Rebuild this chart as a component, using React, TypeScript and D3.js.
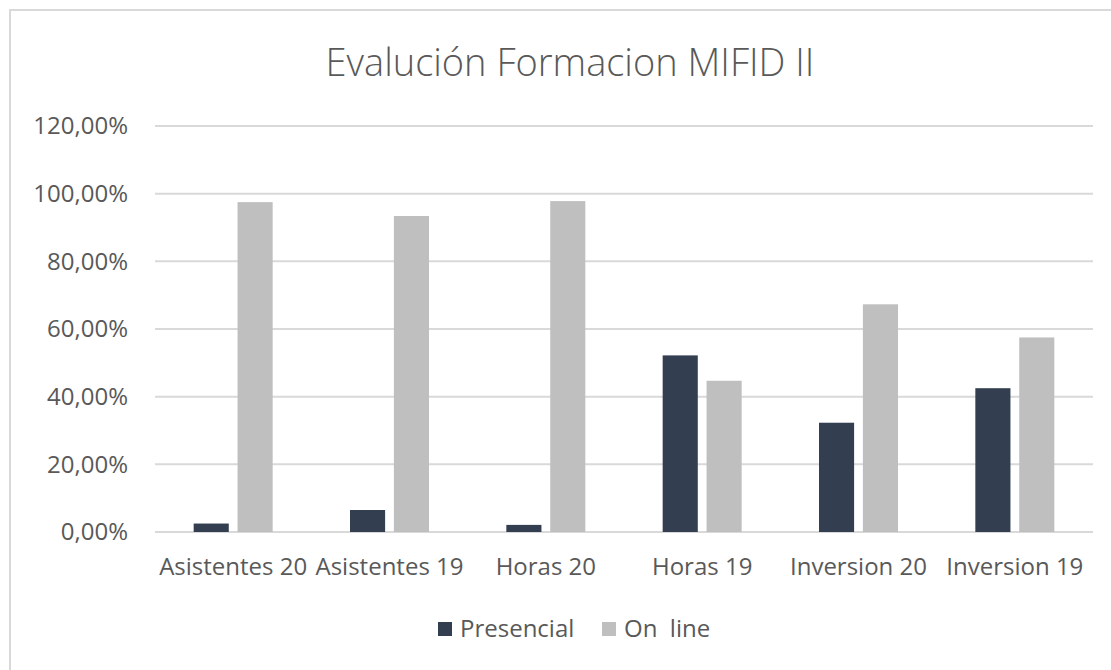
import React, { useEffect, useRef } from "react";
import * as d3 from "d3";

const categories = [
  "Asistentes 20",
  "Asistentes 19",
  "Horas 20",
  "Horas 19",
  "Inversion 20",
  "Inversion 19",
];
const presencial = [0.025, 0.065, 0.021, 0.522, 0.323, 0.425];
const online = [0.975, 0.934, 0.978, 0.447, 0.673, 0.575];
const seriesNames = ["Presencial", "On  line"];
const seriesColors = ["#333f50", "#bfbfbf"];
const yTicks = [0, 0.2, 0.4, 0.6, 0.8, 1.0, 1.2];

export default function App() {
  const ref = useRef<SVGSVGElement | null>(null);

  useEffect(() => {
    const width = 1111;
    const height = 670;
    const margin = { top: 126, left: 155, bottom: 138, right: 18 };

    const svg = d3.select(ref.current);
    svg.selectAll("*").remove();

    const font = "'Open Sans', sans-serif";
    const textColor = "#595959";

    svg
      .append("rect")
      .attr("x", 10)
      .attr("y", 10)
      .attr("width", 1130)
      .attr("height", 700)
      .attr("fill", "#fff")
      .attr("stroke", "#d9d9d9")
      .attr("stroke-width", 2);

    const locale = d3.formatLocale({
      decimal: ",",
      thousands: ".",
      grouping: [3],
      currency: ["", "€"],
    });
    const fmt = locale.format(".2%");

    const x = d3
      .scaleBand()
      .domain(categories)
      .range([margin.left, width - margin.right])
      .padding(0);

    const x1 = d3
      .scaleBand()
      .domain(seriesNames)
      .range([-39.5, 39.5])
      .paddingInner(0.2);

    const y = d3
      .scaleLinear()
      .domain([0, 1.2])
      .range([height - margin.bottom, margin.top]);

    // gridlines
    svg
      .append("g")
      .selectAll("line")
      .data(yTicks)
      .enter()
      .append("line")
      .attr("x1", margin.left)
      .attr("x2", width - margin.right)
      .attr("y1", (d) => y(d))
      .attr("y2", (d) => y(d))
      .attr("stroke", "#d9d9d9")
      .attr("stroke-width", 2);

    // y labels
    svg
      .append("g")
      .selectAll("text")
      .data(yTicks)
      .enter()
      .append("text")
      .attr("x", 128)
      .attr("y", (d) => y(d))
      .attr("dy", "0.35em")
      .attr("text-anchor", "end")
      .attr("font-family", font)
      .attr("font-size", 24)
      .attr("fill", textColor)
      .text((d) => fmt(d));

    const data = categories.map((c, i) => ({
      cat: c,
      values: [presencial[i], online[i]],
    }));

    const groups = svg
      .append("g")
      .selectAll("g")
      .data(data)
      .enter()
      .append("g")
      .attr(
        "transform",
        (d) => `translate(${(x(d.cat) as number) + x.bandwidth() / 2},0)`
      );

    groups
      .selectAll("rect")
      .data((d) => d.values.map((v, j) => ({ v, j })))
      .enter()
      .append("rect")
      .attr("x", (d) => x1(seriesNames[d.j]) as number)
      .attr("width", x1.bandwidth())
      .attr("y", (d) => y(d.v))
      .attr("height", (d) => y(0) - y(d.v))
      .attr("fill", (d) => seriesColors[d.j]);

    // x labels
    svg
      .append("g")
      .selectAll("text")
      .data(categories)
      .enter()
      .append("text")
      .attr("x", (d) => (x(d) as number) + x.bandwidth() / 2)
      .attr("y", 575)
      .attr("text-anchor", "middle")
      .attr("font-family", font)
      .attr("font-size", 24)
      .attr("fill", textColor)
      .text((d) => d);

    // title
    svg
      .append("text")
      .attr("x", 570)
      .attr("y", 76)
      .attr("text-anchor", "middle")
      .attr("font-family", font)
      .attr("font-weight", 300)
      .attr("font-size", 38)
      .attr("fill", textColor)
      .text("Evalución Formacion MIFID II");

    // legend
    const legendX = [438, 602];
    const legend = svg
      .append("g")
      .selectAll("g")
      .data(seriesNames)
      .enter()
      .append("g")
      .attr("transform", (d, i) => `translate(${legendX[i]},622)`);

    legend
      .append("rect")
      .attr("width", 14)
      .attr("height", 14)
      .attr("fill", (d, i) => seriesColors[i]);

    legend
      .append("text")
      .attr("x", 22)
      .attr("y", 15)
      .attr("font-family", font)
      .attr("font-size", 24)
      .attr("fill", textColor)
      .style("white-space", "pre")
      .text((d) => d);
  }, []);

  return (
    <svg
      ref={ref}
      width={1111}
      height={670}
      style={{ position: "absolute", left: 0, top: 0, display: "block" }}
    ></svg>
  );
}
